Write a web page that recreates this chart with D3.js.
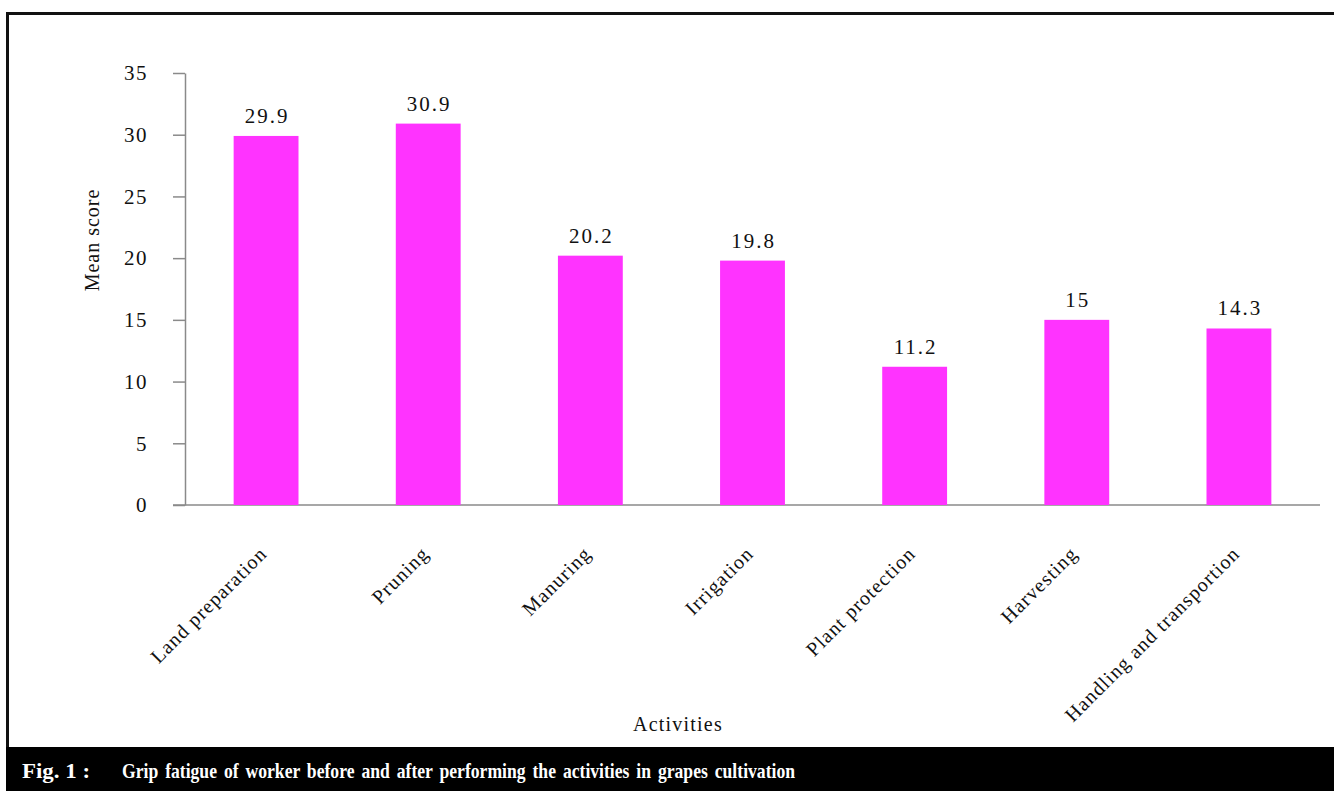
<!DOCTYPE html>
<html><head><meta charset="utf-8">
<script src="https://cdn.jsdelivr.net/npm/d3@7"></script>
<style>html,body{margin:0;padding:0;background:#fff;}svg{display:block;}</style>
</head><body>
<svg id="chart" width="1334" height="791"></svg>
<script>
const categories = ["Land preparation","Pruning","Manuring","Irrigation","Plant protection","Harvesting","Handling and transportion"];
const values = [29.9, 30.9, 20.2, 19.8, 11.2, 15, 14.3];
const valueLabels = ["29.9","30.9","20.2","19.8","11.2","15","14.3"];
const yTicks = [0,5,10,15,20,25,30,35];
const yTitle = "Mean score";
const xTitle = "Activities";
const captionLead = "Fig. 1 :";
const captionText = "Grip fatigue of worker before and after performing the activities in grapes cultivation";

const svg = d3.select("#chart");
const font = "'Liberation Serif','Times New Roman',serif";

// frame
svg.append("line").attr("x1",6).attr("x2",1334).attr("y1",13.5).attr("y2",13.5).attr("stroke","#111").attr("stroke-width",3);
svg.append("line").attr("x1",7.5).attr("x2",7.5).attr("y1",12).attr("y2",748).attr("stroke","#111").attr("stroke-width",3);
svg.append("rect").attr("x",6).attr("y",747).attr("width",1328).attr("height",44).attr("fill","#000");

const x = d3.scaleBand().domain(categories).range([185,1320]).paddingInner(0.6).paddingOuter(0.3);
const y = d3.scaleLinear().domain([0,35]).range([505,73]);

// y axis
const yAxis = svg.append("g").attr("transform","translate(185,0)")
  .call(d3.axisLeft(y).tickValues(yTicks).tickSize(12).tickSizeOuter(0).tickPadding(25));
yAxis.select(".domain").attr("stroke","#8a8a8a").attr("stroke-width",1.5);
yAxis.selectAll(".tick line").attr("stroke","#8a8a8a").attr("stroke-width",1.5);
yAxis.selectAll(".tick text").attr("font-family",font).attr("font-size",21).attr("fill","#111")
  .style("letter-spacing","1.5px");

// x axis line
svg.append("line").attr("x1",173).attr("x2",1320).attr("y1",y(0)).attr("y2",y(0))
  .attr("stroke","#8a8a8a").attr("stroke-width",1.5);

// bars
svg.append("g").selectAll("rect").data(values).join("rect")
  .attr("x",(d,i)=>x(categories[i]))
  .attr("y",d=>y(d))
  .attr("width",x.bandwidth())
  .attr("height",d=>y(0)-y(d))
  .attr("fill","#ff33ff");

// value labels
svg.append("g").selectAll("text").data(values).join("text")
  .attr("x",(d,i)=>x(categories[i])+x.bandwidth()/2+1)
  .attr("y",d=>y(d)-13)
  .attr("text-anchor","middle")
  .attr("font-family",font).attr("font-size",21).attr("fill","#111")
  .style("letter-spacing","2px")
  .text((d,i)=>valueLabels[i]);

// x tick labels
svg.append("g").selectAll("text").data(categories).join("text")
  .attr("transform",d=>`translate(${x(d)+x.bandwidth()/2+2},555) rotate(-45)`)
  .attr("text-anchor","end")
  .attr("font-family",font).attr("font-size",20).attr("fill","#111")
  .style("letter-spacing","1.1px")
  .text(d=>d);

// axis titles
svg.append("text").attr("transform","translate(99,240) rotate(-90)")
  .attr("text-anchor","middle").attr("font-family",font).attr("font-size",20).attr("fill","#111")
  .style("letter-spacing","1px").text(yTitle);
svg.append("text").attr("x",678).attr("y",731)
  .attr("text-anchor","middle").attr("font-family",font).attr("font-size",20).attr("fill","#111")
  .style("letter-spacing","1.2px").text(xTitle);

// caption
svg.append("text").attr("x",22).attr("y",778).attr("font-family",font).attr("font-weight","bold")
  .attr("font-size",21).attr("fill","#fff").attr("textLength",68).attr("lengthAdjust","spacingAndGlyphs").text(captionLead);
svg.append("text").attr("x",122).attr("y",778).attr("font-family",font).attr("font-weight","bold")
  .attr("font-size",21).attr("fill","#fff").attr("textLength",673).attr("lengthAdjust","spacingAndGlyphs")
  .style("word-spacing","3px").text(captionText);
</script>
</body></html>
